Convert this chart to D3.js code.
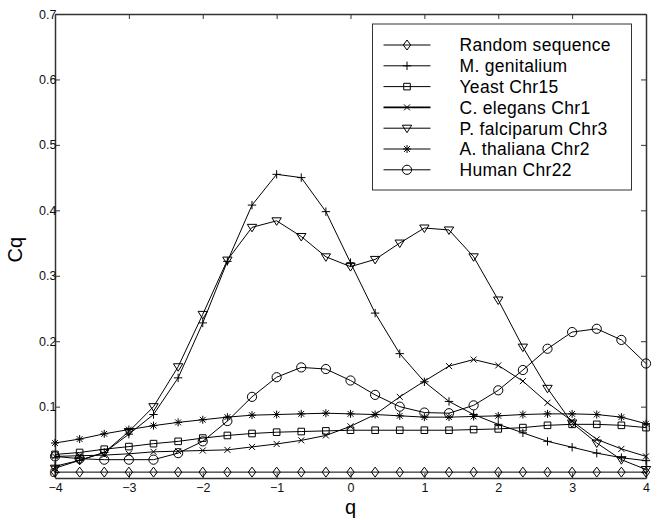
<!DOCTYPE html>
<html>
<head>
<meta charset="utf-8">
<script src="https://cdnjs.cloudflare.com/ajax/libs/d3/7.8.5/d3.min.js"></script>
<style>
  body { margin: 0; background: #fff; }
  text { font-family: "Liberation Sans", Arial, sans-serif; }
</style>
</head>
<body>
<div id="chart"></div>
<script>
// q values: -4 to 4 in steps of 1/3
const qValues = [-4, -11/3, -10/3, -3, -8/3, -7/3, -2, -5/3, -4/3, -1, -2/3, -1/3,
  0, 1/3, 2/3, 1, 4/3, 5/3, 2, 7/3, 8/3, 3, 10/3, 11/3, 4]

const seriesNames = ['Random sequence', 'M. genitalium', 'Yeast Chr15', 'C. elegans Chr1',
  'P. falciparum Chr3', 'A. thaliana Chr2', 'Human Chr22']
const seriesMarkers = ['diamond', 'plus', 'square', 'cross', 'triangle', 'star', 'circle']

const randomSeq = [0, 0, 0, 0, 0, 0, 0, 0, 0, 0, 0, 0, 0, 0, 0, 0, 0, 0, 0, 0, 0, 0, 0, 0, 0]
const mGenitalium = [0.009, 0.018, 0.03, 0.058, 0.088, 0.144, 0.228, 0.322, 0.408, 0.455, 0.45, 0.398,
  0.32, 0.243, 0.181, 0.138, 0.108, 0.088, 0.073, 0.06, 0.047, 0.038, 0.029, 0.022, 0.0175]
const yeast = [0.027, 0.030, 0.035, 0.039, 0.0435, 0.047, 0.052, 0.056, 0.059, 0.061, 0.062, 0.063,
  0.064, 0.064, 0.064, 0.064, 0.064, 0.065, 0.066, 0.068, 0.0715, 0.073, 0.073, 0.0715, 0.068]
const cElegans = [0.024, 0.025, 0.026, 0.028, 0.031, 0.032, 0.033, 0.034, 0.0385, 0.043, 0.0485, 0.056,
  0.070, 0.088, 0.115, 0.139, 0.162, 0.172, 0.163, 0.139, 0.106, 0.078, 0.050, 0.0355, 0.024]
const pFalciparum = [0.006, 0.018, 0.03, 0.062, 0.10, 0.161, 0.241, 0.324, 0.374, 0.384, 0.36, 0.329,
  0.314, 0.325, 0.35, 0.373, 0.370, 0.329, 0.263, 0.191, 0.128, 0.075, 0.0445, 0.019, 0.004]
const aThaliana = [0.0445, 0.0505, 0.0585, 0.065, 0.071, 0.076, 0.080, 0.084, 0.087, 0.088, 0.089, 0.090,
  0.089, 0.088, 0.086, 0.084, 0.084, 0.085, 0.086, 0.088, 0.089, 0.089, 0.088, 0.084, 0.074]
const human = [0.024, 0.0205, 0.019, 0.019, 0.019, 0.029, 0.047, 0.078, 0.115, 0.145, 0.160, 0.1575,
  0.140, 0.118, 0.100, 0.091, 0.090, 0.102, 0.125, 0.156, 0.1885, 0.214, 0.219, 0.202, 0.166]

const seriesValues = [randomSeq, mGenitalium, yeast, cElegans, pFalciparum, aThaliana, human]

const xTicks = [-4, -3, -2, -1, 0, 1, 2, 3, 4]
const yTicks = [0, 0.1, 0.2, 0.3, 0.4, 0.5, 0.6, 0.7]

const margin = { top: 14, left: 55, right: 12, bottom: 42 }
const width = 658 - margin.left - margin.right
const height = 520 - margin.top - margin.bottom

const svg = d3.select('#chart')
  .append('svg')
  .attr('width', 658)
  .attr('height', 520)
  .append('g')
  .attr('transform', `translate(${margin.left}, ${margin.top})`)

const x = d3.scaleLinear().domain([-4, 4]).range([0, width])
const y = d3.scaleLinear().domain([-0.009, 0.7]).range([height, 0])

// marker paths centred at 0,0
function markerPath(type) {
  const s = 4.2
  switch (type) {
    case 'diamond': return `M0,${-s - 0.8}L${s - 0.5},0L0,${s + 0.8}L${-s + 0.5},0Z`
    case 'plus': return `M${-s},0H${s}M0,${-s}V${s}`
    case 'square': return `M-3.3,-3.3H3.3V3.3H-3.3Z`
    case 'cross': return 'M-3,-3L3,3M-3,3L3,-3'
    case 'triangle': return `M${-s - 0.5},-3H${s + 0.5}L0,4.5Z`
    case 'star': return 'M-4,0H4M0,-4V4M-2.9,-2.9L2.9,2.9M-2.9,2.9L2.9,-2.9'
    case 'circle': return d3.symbol().type(d3.symbolCircle).size(Math.PI * 4.6 * 4.6)()
  }
}

// axes box with inward ticks on all four sides
const xAxisB = d3.axisBottom(x).tickValues(xTicks).tickSizeInner(-5).tickSizeOuter(0)
  .tickFormat(d => d < 0 ? '\u2212' + Math.abs(d) : d)
const yAxisL = d3.axisLeft(y).tickValues(yTicks).tickSizeInner(-5).tickSizeOuter(0)
  .tickFormat(d => d === 0 ? '0' : d3.format('.1f')(d))

svg.append('g')
  .attr('class', 'axis x-axis')
  .attr('transform', `translate(0, ${height})`)
  .call(xAxisB)
svg.append('g')
  .attr('class', 'axis y-axis')
  .call(yAxisL)
svg.append('g')
  .attr('class', 'axis')
  .call(d3.axisTop(x).tickValues(xTicks).tickSizeInner(-5).tickSizeOuter(0).tickFormat(''))
svg.append('g')
  .attr('class', 'axis')
  .attr('transform', `translate(${width}, 0)`)
  .call(d3.axisRight(y).tickValues(yTicks).tickSizeInner(-5).tickSizeOuter(0).tickFormat(''))

svg.selectAll('.axis path').attr('stroke', '#333').attr('stroke-width', 1.5)
svg.selectAll('.axis line').attr('stroke', '#333').attr('stroke-width', 1)
svg.selectAll('.axis').attr('font-size', 12.5).attr('font-family', null)
svg.selectAll('.axis text').attr('fill', '#111')
svg.selectAll('.x-axis text').attr('dy', '0.85em')
svg.selectAll('.y-axis text').attr('dx', '0.35em')

const line = d3.line()
  .x((d, i) => x(qValues[i]))
  .y(d => y(d))

seriesValues.forEach((vals, k) => {
  svg.append('path')
    .datum(vals)
    .attr('d', line)
    .attr('fill', 'none')
    .attr('stroke', '#000')
    .attr('stroke-width', 1)

  svg.append('g')
    .selectAll('path')
    .data(vals)
    .enter()
    .append('path')
    .attr('d', markerPath(seriesMarkers[k]))
    .attr('transform', (d, i) => `translate(${x(qValues[i])}, ${y(d)})`)
    .attr('fill', 'none')
    .attr('stroke', '#000')
    .attr('stroke-width', 1)
})

// legend
const legend = svg.append('g')
  .attr('transform', `translate(${372.5 - margin.left}, ${24 - margin.top})`)

legend.append('rect')
  .attr('width', 259)
  .attr('height', 166)
  .attr('fill', '#fff')
  .attr('stroke', '#333')
  .attr('stroke-width', 1)

seriesNames.forEach((name, k) => {
  const ly = 21 + k * 20.8
  legend.append('line')
    .attr('x1', 11).attr('x2', 58)
    .attr('y1', ly).attr('y2', ly)
    .attr('stroke', '#000')
    .attr('stroke-width', k === 3 ? 1.8 : 1)
  legend.append('path')
    .attr('d', markerPath(seriesMarkers[k]))
    .attr('transform', `translate(34.5, ${ly})`)
    .attr('fill', 'none')
    .attr('stroke', '#000')
  legend.append('text')
    .attr('x', 87)
    .attr('y', ly)
    .attr('dy', '0.36em')
    .attr('font-size', 17.5)
    .attr('letter-spacing', 0.3)
    .text(name)
})

// axis titles
svg.append('text')
  .attr('x', x(0))
  .attr('y', height + 36)
  .attr('text-anchor', 'middle')
  .attr('font-size', 20)
  .text('q')

svg.append('text')
  .attr('transform', `translate(${-33}, ${y(0.34)}) rotate(-90)`)
  .attr('text-anchor', 'middle')
  .attr('font-size', 20)
  .text('Cq')
</script>
</body>
</html>
